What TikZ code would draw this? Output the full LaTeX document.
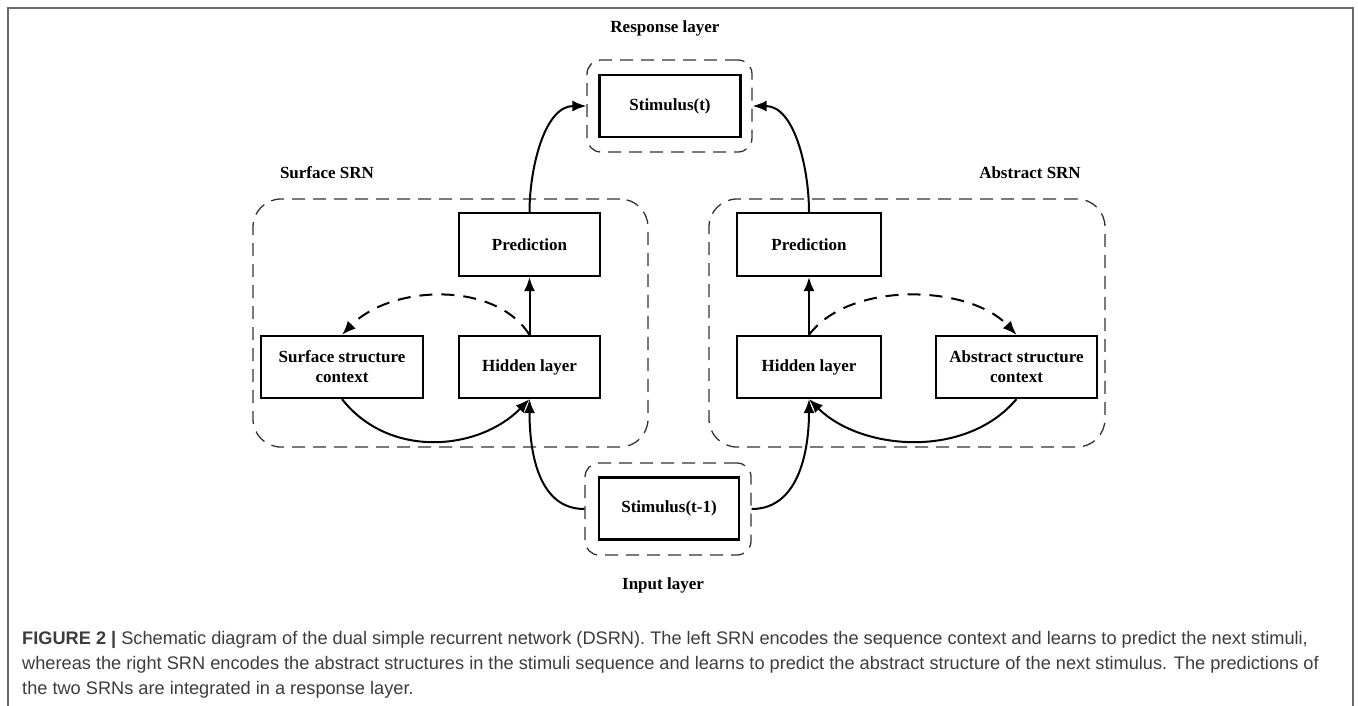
\documentclass[tikz,border=0pt]{standalone}
\usepackage{fontspec}
\setmainfont{Liberation Serif}
\newfontfamily\capfont{Liberation Sans}
\usetikzlibrary{arrows.meta}
\definecolor{capgray}{HTML}{3C3C3C}
\definecolor{framegray}{HTML}{6A6A6A}
\definecolor{dashgray}{HTML}{333333}
\begin{document}
\begin{tikzpicture}[x=1pt,y=-1pt,
  box/.style={draw=black,line width=2.2pt,minimum height=62pt,inner sep=0pt,
    font=\bfseries\fontsize{17}{20}\selectfont,align=center,fill=white},
  stimbox/.style={box,line width=2.8pt},
  grp/.style={draw=dashgray,line width=1.3pt,dash pattern=on 13pt off 8pt,inner sep=0pt},
  lbl/.style={font=\bfseries\fontsize{17}{20}\selectfont,inner sep=0pt},
  arr/.style={line width=2pt,-{Latex[length=14pt,width=11pt]}},
  darr/.style={arr,dash pattern=on 13pt off 9pt},
]
\useasboundingbox (0,0) rectangle (1358,705);
\draw[framegray,line width=1.5pt] (8,706) -- (8,8) -- (1353,8) -- (1353,706);

% group boxes
\node[grp,rounded corners=14pt,minimum width=165pt,minimum height=92pt] (respOut) at (669.5,106) {};
\node[grp,rounded corners=28pt,minimum width=395pt,minimum height=248pt] (grpL) at (450.5,323) {};
\node[grp,rounded corners=28pt,minimum width=396pt,minimum height=248pt] (grpR) at (907,323) {};
\node[grp,rounded corners=14pt,minimum width=166pt,minimum height=92pt] (inOut) at (668,509) {};

% labels
\node[lbl] (lResp) at (665,28) {Response layer};
\node[lbl] (lSurf) at (327,173) {Surface SRN};
\node[lbl] (lAbs) at (1030,173) {Abstract SRN};
\node[lbl] (lIn) at (663,585) {Input layer};

% boxes
\node[stimbox,minimum width=141pt] (stimT) at (670,106) {Stimulus(t)};
\node[box,minimum width=141pt,minimum height=63pt] (predL) at (529.5,244.5) {Prediction};
\node[box,minimum width=141pt] (hidL) at (529.5,367) {Hidden layer};
\node[box,minimum width=162pt] (ctxL) at (342,367) {Surface structure\\context};
\node[box,minimum width=144pt,minimum height=63pt] (predR) at (809,244.5) {Prediction};
\node[box,minimum width=144pt] (hidR) at (809,367) {Hidden layer};
\node[box,minimum width=161pt] (ctxR) at (1016.5,367) {Abstract structure\\context};
\node[stimbox,minimum width=140pt] (stimT1) at (669,508.5) {Stimulus(t-1)};

% connectors
\draw[arr] (predL.north) to[out=90,in=180,looseness=0.9] (respOut.west);
\draw[arr] (predR.north) to[out=90,in=0,looseness=0.9] (respOut.east);
\draw[arr] (hidL.north) -- (predL.south);
\draw[arr] (hidR.north) -- (predR.south);
\draw[darr] (hidL.north) .. controls (495,280) and (390,285) .. (ctxL.north);
\draw[darr] (hidR.north) .. controls (850,280) and (970,285) .. (ctxR.north);
\draw[arr] (ctxL.south) .. controls (390,460) and (480,450) .. (hidL.south);
\draw[arr] (ctxR.south) .. controls (965,460) and (860,450) .. (hidR.south);
\draw[arr] (inOut.west) to[out=180,in=-90] (hidL.south);
\draw[arr] (inOut.east) to[out=0,in=-90] (hidR.south);

% caption
\node[anchor=north west,inner sep=0pt,align=left,text=capgray,
  font=\capfont\fontsize{18.2}{25}\selectfont] (cap) at (22,631)
{\textbf{FIGURE 2 |} Schematic diagram of the dual simple recurrent network (DSRN). The left SRN encodes the sequence context and learns to predict the next stimuli,\\
whereas the right SRN encodes the abstract structures in the stimuli sequence and learns to predict the abstract structure of the next stimulus. The predictions of\\
the two SRNs are integrated in a response layer.};
\end{tikzpicture}
\end{document}
